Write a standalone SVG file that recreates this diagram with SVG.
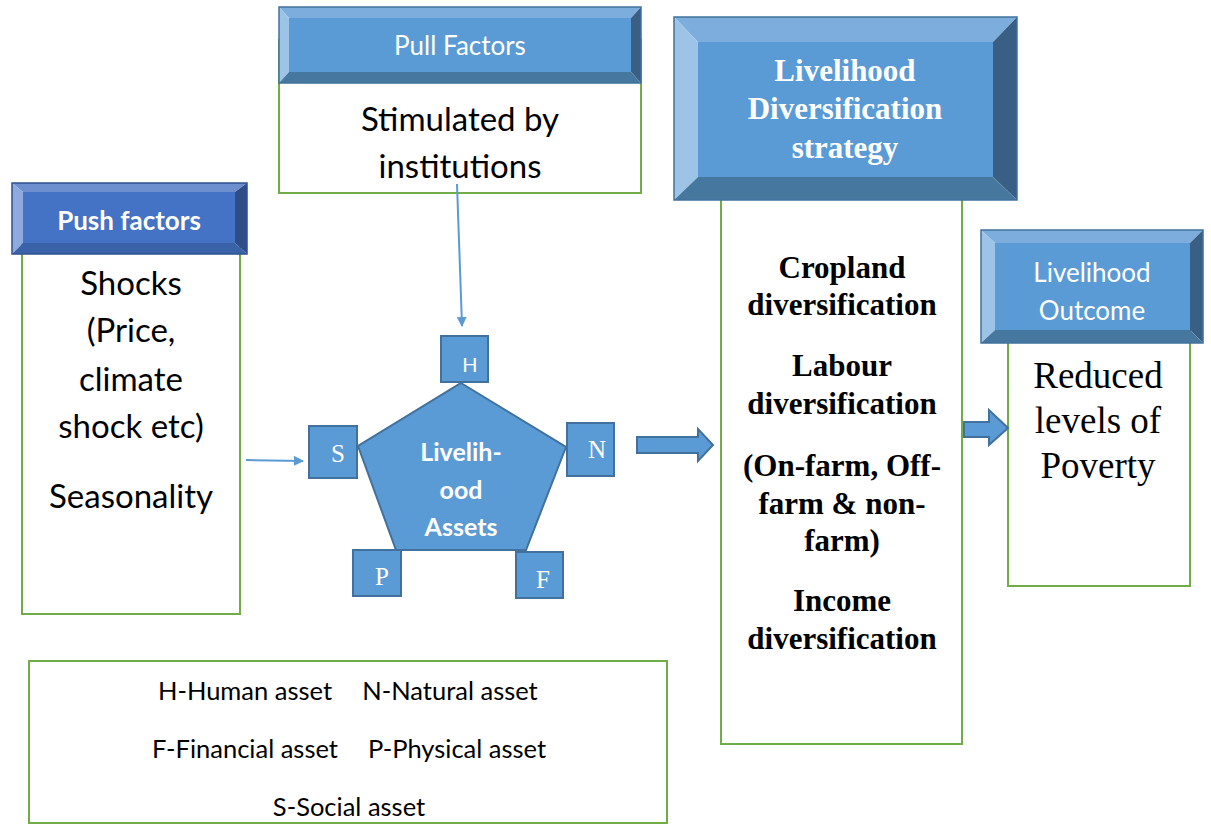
<svg xmlns="http://www.w3.org/2000/svg" width="1211" height="825" viewBox="0 0 1211 825">
  <defs>
    <style>
      .body { fill: #ffffff; stroke: #70AD47; stroke-width: 2; }
      .b-face { fill: #5B9BD5; }
      .b-top { fill: #7DADDD; }
      .b-left { fill: #9DC3E6; }
      .b-right { fill: #3A5F84; }
      .b-bot { fill: #46789F; }
      .p-face { fill: #4472C4; }
      .p-top { fill: #6E8FCF; }
      .p-left { fill: #8EA9DB; }
      .p-right { fill: #2F4D86; }
      .p-bot { fill: #3A62A8; }
      .frame { fill: none; stroke: #41719C; stroke-width: 1.5; }
      .asset { fill: #5B9BD5; stroke: #41719C; stroke-width: 2; }
      .sans { font-family: Lato, "Liberation Sans", sans-serif; text-anchor: middle; }
      .serif { font-family: "Liberation Serif", "Times New Roman", serif; text-anchor: middle; }
      .hdr { fill: #ffffff; font-size: 26px; }
      .big { fill: #000000; font-size: 33px; }
      .legend { fill: #000000; font-size: 25.5px; }
      .strat { fill: #000000; font-size: 31px; font-weight: bold; }
      .letter { fill: #ffffff; font-size: 25px; }
      .line { stroke: #5B9BD5; stroke-width: 2; fill: none; }
      .block { fill: #5B9BD5; stroke: #41719C; stroke-width: 2; stroke-linejoin: miter; }
    </style>
    <marker id="tip" viewBox="0 0 10 10" refX="9" refY="5" markerWidth="5" markerHeight="5" orient="auto" markerUnits="strokeWidth">
      <path d="M0,0 L10,5 L0,10 z" fill="#5B9BD5"/>
    </marker>
    <clipPath id="legendClip">
      <rect x="29" y="661" width="638" height="158"/>
    </clipPath>
  </defs>

  <rect width="1211" height="825" fill="#ffffff"/>

  <!-- Pull factors -->
  <g id="pull-factors">
    <rect class="body" x="279" y="40" width="362" height="153"/>
    <polygon class="b-top" points="279,7 641,7 631,18 289,18"/>
    <polygon class="b-left" points="279,7 289,18 289,72 279,83"/>
    <polygon class="b-right" points="641,7 641,83 631,72 631,18"/>
    <polygon class="b-bot" points="279,83 289,72 631,72 641,83"/>
    <rect class="b-face" x="289" y="18" width="342" height="54"/>
    <rect class="frame" x="279" y="7" width="362" height="76"/>
    <text class="sans hdr" x="460" y="55">Pull Factors</text>
    <text class="sans big" x="460" y="131">Stimulated by</text>
    <text class="sans big" x="460" y="178">institutions</text>
  </g>

  <!-- Push factors -->
  <g id="push-factors">
    <rect class="body" x="22" y="230" width="218" height="384"/>
    <polygon class="p-top" points="12,183 247,183 235,192 23,192"/>
    <polygon class="p-left" points="12,183 23,192 23,243 12,254"/>
    <polygon class="p-right" points="247,183 247,254 235,243 235,192"/>
    <polygon class="p-bot" points="12,254 23,243 235,243 247,254"/>
    <rect class="p-face" x="23" y="192" width="212" height="51"/>
    <rect class="frame" x="12" y="183" width="235" height="71" style="stroke:#2F528F"/>
    <text class="sans hdr" x="129" y="230" font-weight="bold">Push factors</text>
    <text class="sans big" x="131" y="295">Shocks</text>
    <text class="sans big" x="131" y="342">(Price,</text>
    <text class="sans big" x="131" y="391">climate</text>
    <text class="sans big" x="131" y="438">shock etc)</text>
    <text class="sans big" x="131" y="508">Seasonality</text>
  </g>

  <!-- Livelihood assets pentagon -->
  <g id="livelihood-assets">
    <polygon class="asset" points="461,383 566,447 526,550 396,550 358,446"/>
    <text class="sans hdr" x="461" y="461" font-weight="bold" style="font-size:25px">Livelih-</text>
    <text class="sans hdr" x="461" y="499" font-weight="bold" style="font-size:25px">ood</text>
    <text class="sans hdr" x="461" y="536" font-weight="bold" style="font-size:25px">Assets</text>
  </g>

  <g id="asset-h">
    <rect class="asset" x="441" y="336" width="47" height="46"/>
    <text class="sans letter" x="470" y="372" style="font-size:20px">H</text>
  </g>
  <g id="asset-s">
    <rect class="asset" x="309" y="426" width="48" height="52"/>
    <text class="serif letter" x="338" y="462">S</text>
  </g>
  <g id="asset-n">
    <rect class="asset" x="567" y="423" width="47" height="53"/>
    <text class="serif letter" x="597" y="458">N</text>
  </g>
  <g id="asset-p">
    <rect class="asset" x="353" y="550" width="48" height="46"/>
    <text class="serif letter" x="382" y="585">P</text>
  </g>
  <g id="asset-f">
    <rect class="asset" x="516" y="552" width="47" height="46"/>
    <text class="serif letter" x="543" y="588">F</text>
  </g>

  <!-- Diversification strategy -->
  <g id="strategy">
    <rect class="body" x="721" y="150" width="241" height="594"/>
    <polygon class="b-top" points="674,17 1017,17 993,42 698,42"/>
    <polygon class="b-left" points="674,17 698,42 698,177 674,200"/>
    <polygon class="b-right" points="1017,17 1017,200 993,177 993,42"/>
    <polygon class="b-bot" points="674,200 698,177 993,177 1017,200"/>
    <rect class="b-face" x="698" y="42" width="295" height="135"/>
    <rect class="frame" x="674" y="17" width="343" height="183"/>
    <text class="serif hdr" x="845" y="81" style="font-size:31px;font-weight:bold">Livelihood</text>
    <text class="serif hdr" x="845" y="119" style="font-size:31px;font-weight:bold">Diversification</text>
    <text class="serif hdr" x="845" y="158" style="font-size:31px;font-weight:bold">strategy</text>
    <text class="serif strat" x="842" y="278">Cropland</text>
    <text class="serif strat" x="842" y="315">diversification</text>
    <text class="serif strat" x="842" y="376">Labour</text>
    <text class="serif strat" x="842" y="414">diversification</text>
    <text class="serif strat" x="842" y="476">(On-farm, Off-</text>
    <text class="serif strat" x="842" y="514">farm &amp; non-</text>
    <text class="serif strat" x="842" y="551">farm)</text>
    <text class="serif strat" x="842" y="611">Income</text>
    <text class="serif strat" x="842" y="649">diversification</text>
  </g>

  <!-- Livelihood outcome -->
  <g id="outcome">
    <rect class="body" x="1008" y="300" width="182" height="286"/>
    <polygon class="b-top" points="981,230 1203,230 1190,243 995,243"/>
    <polygon class="b-left" points="981,230 995,243 995,330 981,343"/>
    <polygon class="b-right" points="1203,230 1203,343 1190,330 1190,243"/>
    <polygon class="b-bot" points="981,343 995,330 1190,330 1203,343"/>
    <rect class="b-face" x="995" y="243" width="195" height="87"/>
    <rect class="frame" x="981" y="230" width="222" height="113"/>
    <text class="sans hdr" x="1092" y="282">Livelihood</text>
    <text class="sans hdr" x="1092" y="320">Outcome</text>
    <text class="serif" x="1098" y="388" style="font-size:37px">Reduced</text>
    <text class="serif" x="1098" y="433" style="font-size:37px">levels of</text>
    <text class="serif" x="1098" y="478" style="font-size:37px">Poverty</text>
  </g>

  <!-- Legend -->
  <g id="legend">
    <rect class="body" x="29" y="661" width="638" height="162"/>
    <g clip-path="url(#legendClip)">
      <text class="sans legend" x="245" y="700">H-Human asset</text>
      <text class="sans legend" x="450" y="700">N-Natural asset</text>
      <text class="sans legend" x="245" y="758">F-Financial asset</text>
      <text class="sans legend" x="457" y="758">P-Physical asset</text>
      <text class="sans legend" x="349" y="816">S-Social asset</text>
    </g>
  </g>

  <!-- Connectors -->
  <g id="connectors">
    <line class="line" x1="457" y1="184" x2="462" y2="326" marker-end="url(#tip)"/>
    <line class="line" x1="246" y1="460" x2="303" y2="461" marker-end="url(#tip)"/>
    <polygon class="block" points="637,437 698,437 698,429 713,445 698,461 698,453 637,453"/>
    <polygon class="block" points="964,422 989,422 989,410 1008,428 989,445 989,437 964,437"/>
  </g>
</svg>
